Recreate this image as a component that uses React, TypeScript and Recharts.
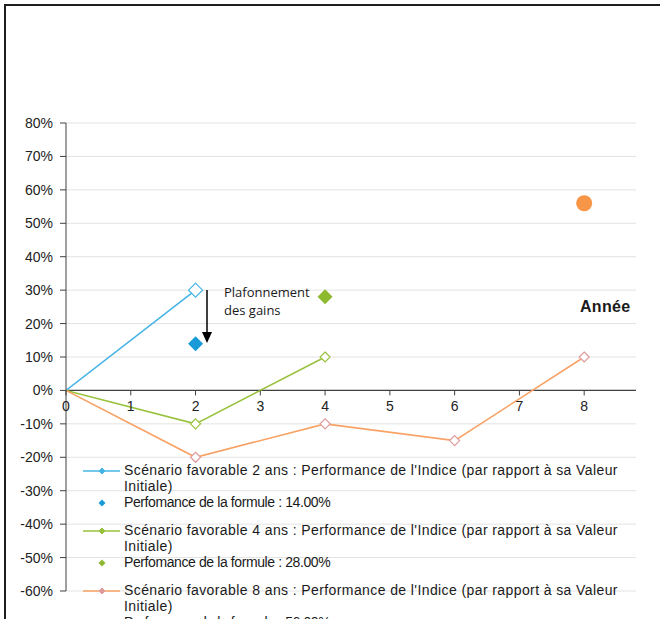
import React from 'react';
import { ComposedChart, Line, Scatter, XAxis, YAxis, CartesianGrid, ReferenceLine } from 'recharts';

const years = [0, 1, 2, 3, 4, 5, 6, 7, 8];
const yTicks = [-60, -50, -40, -30, -20, -10, 0, 10, 20, 30, 40, 50, 60, 70, 80];

const scen2Years = [0, 2];
const scen2Perf = [0, 30];
const scen4Years = [0, 2, 4];
const scen4Perf = [0, -10, 10];
const scen8Years = [0, 2, 4, 6, 8];
const scen8Perf = [0, -20, -10, -15, 10];

const formulaYears = [2, 4, 8];
const formulaPerf = [14, 28, 56];

const legendLabels = [
  "Scénario favorable 2 ans : Performance de l'Indice (par rapport à sa Valeur Initiale)",
  'Perfomance de la formule : 14.00%',
  "Scénario favorable 4 ans  : Performance de l'Indice (par rapport à sa Valeur Initiale)",
  'Perfomance de la formule : 28.00%',
  "Scénario favorable 8 ans : Performance de l'Indice (par rapport à sa Valeur Initiale)",
  'Perfomance de la formule : 56.00%',
];

const BLUE = '#47b4e6';
const BLUE_DOT = '#1a9ad6';
const GREEN = '#99c23c';
const GREEN_DOT = '#8db92e';
const ORANGE = '#f9a265';
const ORANGE_MARK = '#df9a9c';
const ORANGE_DOT = '#f79646';

const W = 660;
const H = 619;
const X_AXIS_H = 20;
const M = { top: 123, right: 24, bottom: 28 - X_AXIS_H, left: 0 };
const Y_MIN = -60;
const Y_MAX = 80;
const PLOT_H = H - M.top - M.bottom - X_AXIS_H;
const ZERO_Y = M.top + (PLOT_H * Y_MAX) / (Y_MAX - Y_MIN);

const toRows = (xs: number[], ys: number[]) => xs.map((x, i) => ({ x, y: ys[i] }));
const scen2 = toRows(scen2Years, scen2Perf);
const scen4 = toRows(scen4Years, scen4Perf);
const scen8 = toRows(scen8Years, scen8Perf);
const formula2 = toRows([formulaYears[0]], [formulaPerf[0]]);
const formula4 = toRows([formulaYears[1]], [formulaPerf[1]]);
const formula8 = toRows([formulaYears[2]], [formulaPerf[2]]);

const diamond = (cx: number, cy: number, r: number) =>
  `M${cx},${cy - r}L${cx + r},${cy}L${cx},${cy + r}L${cx - r},${cy}Z`;

const hollowDot = (color: string, r: number) => (props: any) => {
  const { cx, cy, payload, index } = props;
  if (payload.x === 0) return <g key={index} />;
  return <path key={index} d={diamond(cx, cy, r)} fill="#fff" stroke={color} strokeWidth={1.2} />;
};

const filledDiamond = (color: string, r: number) => (props: any) => (
  <path d={diamond(props.cx, props.cy, r)} fill={color} />
);

const renderXTick = (props: any) => {
  const { x, payload, index } = props;
  return (
    <g key={index}>
      <line x1={x} x2={x} y1={ZERO_Y} y2={ZERO_Y + 5} stroke="#404040" />
      <text x={x} y={ZERO_Y + 16} dy="0.35em" textAnchor="middle" fontSize={14} fill="#222">
        {payload.value}
      </text>
    </g>
  );
};

const LegendIcon = ({ kind, color, mark }: { kind: string; color: string; mark: string }) => (
  <svg width={40} height={12} style={{ flex: 'none', marginTop: 3 }}>
    {kind === 'line' && <line x1={0} x2={37} y1={6} y2={6} stroke={color} strokeWidth={1.5} />}
    {kind === 'line' && <path d={diamond(19, 6, 3)} fill={mark} stroke={mark} />}
    {kind === 'diamond' && <path d={diamond(19, 6, 3.5)} fill={color} />}
    {kind === 'circle' && <circle cx={19} cy={6} r={3.5} fill={color} />}
  </svg>
);

const legendIcons = [
  { kind: 'line', color: BLUE, mark: BLUE },
  { kind: 'diamond', color: BLUE_DOT, mark: BLUE_DOT },
  { kind: 'line', color: GREEN, mark: GREEN },
  { kind: 'diamond', color: GREEN_DOT, mark: GREEN_DOT },
  { kind: 'line', color: ORANGE, mark: ORANGE_MARK },
  { kind: 'circle', color: ORANGE_DOT, mark: ORANGE_DOT },
];

export default function App() {
  return (
    <div
      style={{
        position: 'absolute',
        left: 0,
        top: 0,
        width: W,
        height: H,
        background: '#fff',
        overflow: 'hidden',
        fontFamily: '"Liberation Sans", Arial, sans-serif',
      }}
    >
      <div
        style={{
          position: 'absolute',
          left: 4,
          top: 4,
          width: W,
          height: H,
          borderTop: '2px solid #1e1e1e',
          borderLeft: '2px solid #1e1e1e',
        }}
      />
      <ComposedChart width={W} height={H} margin={M} style={{ position: 'absolute', left: 0, top: 0 }}>
        <CartesianGrid vertical={false} stroke="#e3e3e3" />
        <XAxis
          type="number"
          dataKey="x"
          domain={[0, 8.8]}
          ticks={years}
          allowDataOverflow
          axisLine={false}
          tickLine={false}
          height={X_AXIS_H}
          tick={renderXTick}
          interval={0}
        />
        <YAxis
          type="number"
          dataKey="y"
          domain={[Y_MIN, Y_MAX]}
          ticks={yTicks}
          interval={0}
          width={66}
          tickSize={6}
          tickMargin={7}
          stroke="#404040"
          tick={{ fill: '#222', fontSize: 14 }}
          tickFormatter={(v: number) => `${v}%`}
        />
        <ReferenceLine y={0} stroke="#404040" strokeWidth={1.3} />
        <Line data={scen2} dataKey="y" stroke={BLUE} strokeWidth={1.6} dot={hollowDot(BLUE, 7)} isAnimationActive={false} />
        <Line data={scen4} dataKey="y" stroke={GREEN} strokeWidth={1.6} dot={hollowDot(GREEN, 5)} isAnimationActive={false} />
        <Line data={scen8} dataKey="y" stroke={ORANGE} strokeWidth={1.6} dot={hollowDot(ORANGE_MARK, 5)} isAnimationActive={false} />
        <Scatter data={formula2} dataKey="y" fill={BLUE_DOT} shape={filledDiamond(BLUE_DOT, 7.5)} isAnimationActive={false} />
        <Scatter data={formula4} dataKey="y" fill={GREEN_DOT} shape={filledDiamond(GREEN_DOT, 7.5)} isAnimationActive={false} />
        <Scatter
          data={formula8}
          dataKey="y"
          fill={ORANGE_DOT}
          shape={(p: any) => <circle cx={p.cx} cy={p.cy} r={8} fill={ORANGE_DOT} />}
          isAnimationActive={false}
        />
      </ComposedChart>

      <svg width={20} height={60} style={{ position: 'absolute', left: 197, top: 288 }}>
        <line x1={10} x2={10} y1={2} y2={46} stroke="#000" strokeWidth={1.5} />
        <path d="M5,44L15,44L10,55Z" fill="#000" />
      </svg>
      <div
        style={{
          position: 'absolute',
          left: 224,
          top: 283,
          fontFamily: '"Open Sans", sans-serif',
          fontSize: 13,
          lineHeight: '18px',
          color: '#1a1a1a',
        }}
      >
        Plafonnement
        <br />
        des gains
      </div>
      <div
        style={{
          position: 'absolute',
          left: 580,
          top: 298,
          fontSize: 16,
          fontWeight: 'bold',
          letterSpacing: 0.3,
          color: '#1a1a1a',
        }}
      >
        Année
      </div>

      <div style={{ position: 'absolute', left: 83, top: 462, width: 548 }}>
        {legendLabels.map((label, i) => (
          <div
            key={label}
            style={{
              display: 'flex',
              alignItems: 'flex-start',
              height: i % 2 === 0 ? 32 : 28,
              fontSize: 14,
              lineHeight: '16px',
              letterSpacing: i % 2 === 0 ? 0.4 : -0.4,
              color: '#1a1a1a',
            }}
          >
            <LegendIcon {...legendIcons[i]} />
            <span style={{ marginLeft: 1 }}>{label}</span>
          </div>
        ))}
      </div>
    </div>
  );
}
